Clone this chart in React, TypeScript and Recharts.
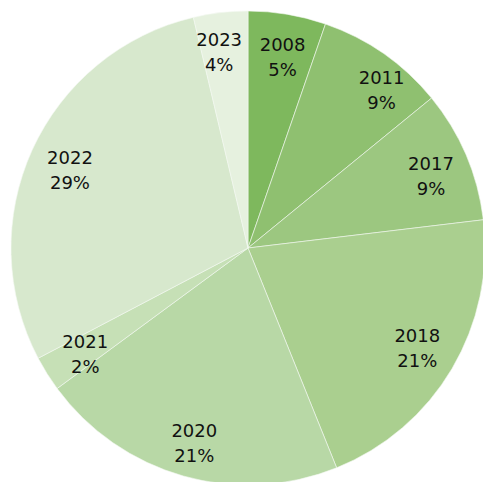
import React from "react";
import { PieChart, Pie, Cell } from "recharts";

const years = ["2008", "2011", "2017", "2018", "2020", "2021", "2022", "2023"];
const shares = [5.3, 8.8, 9.0, 20.8, 21.0, 2.4, 29.0, 3.7];
const colors = ["#7EB85D", "#8FC070", "#9CC780", "#AACF8F", "#B8D8A6", "#C6E0B6", "#D7E8CD", "#E6F1DF"];
// small label nudges (px) imitating the spreadsheet's best-fit label placement
const labelNudgeX = [2, 21, 2, 0, 0, 4, 1, -6];
const labelNudgeY = [3, 3, 5, 0, 6, 2, 4, -1];

const data = years.map((y, i) => ({ name: y, value: shares[i], idx: i }));

const RAD = Math.PI / 180;

const renderLabel = (props: any) => {
  const { cx, cy, midAngle, outerRadius, percent, name, index } = props;
  const r = outerRadius * 0.83;
  const x = cx + r * Math.cos(-midAngle * RAD) + (labelNudgeX[index] || 0);
  const y = cy + r * Math.sin(-midAngle * RAD) + (labelNudgeY[index] || 0);
  return (
    <text
      x={x}
      y={y}
      textAnchor="middle"
      fill="#111111"
      fontFamily="DejaVu Sans, Verdana, sans-serif"
      fontSize={18}
    >
      <tspan x={x} y={y - 12.5} dominantBaseline="central">{name}</tspan>
      <tspan x={x} y={y + 12.5} dominantBaseline="central">{`${Math.round(percent * 100)}%`}</tspan>
    </text>
  );
};

export default function App() {
  return (
    <div style={{ position: "absolute", left: 0, top: 0, width: 483, height: 482, overflow: "hidden" }}>
      <PieChart width={483} height={482} margin={{ top: 0, right: 0, bottom: 0, left: 0 }}>
        <Pie
          data={data}
          dataKey="value"
          nameKey="name"
          cx={248}
          cy={248}
          outerRadius={237}
          startAngle={90}
          endAngle={-270}
          stroke="#f4f8f1"
          strokeWidth={0.6}
          label={renderLabel}
          labelLine={false}
          isAnimationActive={false}
        >
          {data.map((d, i) => (
            <Cell key={d.name} fill={colors[i]} />
          ))}
        </Pie>
      </PieChart>
    </div>
  );
}
